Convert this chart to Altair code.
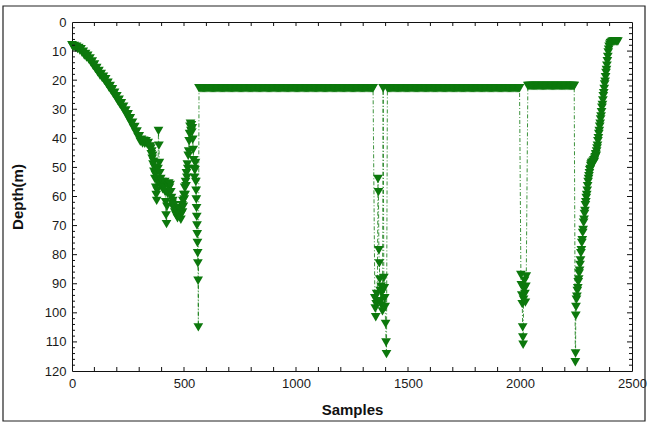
import altair as alt
import pandas as pd

# ---- depth record (sample index -> depth in metres) ----
GREEN = "#0c780c"

# initial descent, read every 5 samples from sample 0
DESCENT_START = 0
DESCENT_STEP = 5
DESCENT_DEPTH = [8.0, 8.6, 8.2, 8.9, 8.5, 9.3, 8.9, 9.8, 9.4, 10.6,
                 10.2, 11.5, 11.0, 12.2, 11.6, 12.9, 12.5, 13.9, 13.6, 15.1,
                 14.6, 16.2, 15.8, 17.3, 16.8, 18.4, 17.9, 19.3, 18.8, 20.2,
                 19.7, 21.3, 20.9, 22.5, 22.0, 23.6, 23.1, 24.8, 24.3, 25.9,
                 25.5, 27.2, 26.7, 28.4, 27.9, 29.6, 29.1, 30.8, 30.4, 32.2,
                 31.7, 33.6, 33.1, 35.0, 34.6, 36.5, 36.1, 38.0, 37.6, 39.5,
                 39.3, 41.2, 40.5, 41.8, 40.8, 41.9, 41.0, 42.0, 41.6, 43.0,
                 42.8]

# irregular V-shaped stretch before the first long plateau
V_SAMPLES = [352, 354, 356, 358, 360, 362, 364, 366, 368, 370, 372, 374, 376, 378,
             380, 382, 384, 386, 388, 390, 392, 394, 396, 399, 402, 405, 408, 411,
             414, 416, 418, 420, 422, 424, 426, 429, 432, 435, 438, 441, 444, 447,
             450, 453, 456, 459, 462, 465, 468, 471, 474, 477, 480, 483, 486, 489,
             491, 493, 495, 497, 499, 501, 503, 505, 507, 509, 511, 513, 515, 517,
             519, 521, 523, 525, 527, 529, 531, 533, 535, 537, 539, 541, 543, 545,
             547, 549, 551]
V_DEPTH = [43.5, 45.5, 44.5, 47.0, 46.0, 49.0, 48.0, 51.5, 50.0, 54.0, 52.5, 57.0, 59.5, 61.5,
           58.0, 55.0, 50.5, 37.5, 42.5, 48.5, 52.0, 55.5, 54.0, 56.5, 55.0, 57.5, 55.5, 57.0,
           55.0, 58.5, 62.0, 66.5, 69.5, 63.5, 59.0, 56.5, 55.5, 57.0, 56.0, 58.5, 60.5, 62.5,
           61.5, 64.0, 63.0, 65.5, 64.0, 66.5, 65.0, 67.5, 66.0, 64.0, 66.5, 65.0, 68.0, 66.0,
           63.0, 65.5, 61.5, 63.5, 59.5, 61.0, 57.0, 59.5, 55.0, 56.5, 52.0, 53.5, 49.0, 50.5,
           46.0, 44.5, 41.0, 38.5, 36.0, 35.0, 37.5, 35.5, 38.0, 36.5, 40.5, 44.0, 47.5, 50.5,
           53.5, 51.0, 48.5]

# short excursions between plateaus
SPIKE_A_SAMPLES = [553, 554, 555, 556, 557, 558, 559, 560, 561, 562, 563, 564]
SPIKE_A_DEPTH = [55.0, 58.0, 61.0, 64.0, 67.0, 70.0, 73.0, 76.0, 79.5, 83.0, 89.0, 105.0]

SPIKE_B_SAMPLES = [1352, 1354, 1356, 1358, 1360, 1363, 1366, 1368, 1370, 1372, 1374, 1376,
                   1378, 1380, 1382, 1384, 1386, 1389, 1392, 1394, 1396, 1398, 1400, 1402, 1404]
SPIKE_B_DEPTH = [95.0, 98.5, 101.5, 97.0, 93.5, 96.0, 54.0, 58.5, 78.5, 83.0, 88.5, 92.5,
                 96.0, 91.0, 97.5, 93.0, 99.5, 22.8, 88.0, 91.5, 95.0, 98.0, 103.8, 110.2, 114.2]

SPIKE_C_SAMPLES = [2004, 2006, 2008, 2010, 2012, 2013, 2014, 2016, 2018, 2020, 2022, 2024,
                   2026, 2028]
SPIKE_C_DEPTH = [87.0, 90.5, 94.0, 97.0, 105.0, 108.5, 111.0, 95.5, 92.0, 89.0, 93.5, 96.5,
                 91.0, 87.5]

SPIKE_D_SAMPLES = [2247, 2248, 2249, 2250]
SPIKE_D_DEPTH = [117.0, 114.0, 101.0, 98.0]

# final ascent to the surface
CLIMB_SAMPLES = [2252, 2254, 2256, 2258, 2260, 2262, 2264, 2266, 2268, 2270, 2272, 2274,
                 2276, 2278, 2280, 2282, 2284, 2286, 2288, 2290, 2292, 2294, 2296, 2298,
                 2300, 2302, 2304, 2306, 2308, 2310, 2312, 2314, 2316, 2318, 2320, 2322,
                 2324, 2326, 2328, 2330, 2332, 2334, 2336, 2338, 2340, 2342, 2344, 2346,
                 2348, 2350, 2352, 2354, 2356, 2358, 2360, 2362, 2364, 2366, 2368, 2370,
                 2372, 2374, 2376, 2378, 2380, 2382, 2384, 2386, 2388, 2390, 2392, 2394,
                 2396, 2398, 2401, 2404, 2408, 2412, 2416, 2420, 2424, 2428, 2432, 2437]
CLIMB_DEPTH = [95.5, 94.5, 92.5, 91.5, 89.5, 88.5, 86.5, 85.5, 83.5, 82.0, 79.5, 78.5,
               76.0, 75.0, 72.5, 71.5, 69.0, 68.0, 66.0, 65.0, 63.0, 62.0, 60.5, 59.5,
               58.0, 56.5, 55.0, 54.0, 53.0, 52.0, 51.0, 50.5, 49.5, 49.0, 48.5, 49.0,
               48.5, 48.0, 48.5, 47.5, 48.0, 47.0, 46.5, 45.5, 46.0, 44.5, 43.5, 42.5,
               41.0, 40.0, 38.5, 37.5, 36.0, 35.0, 33.5, 32.5, 31.0, 29.5, 28.5, 27.0,
               25.5, 24.5, 23.0, 21.5, 20.5, 19.0, 17.5, 16.5, 15.0, 13.5, 12.0, 10.5,
               9.5, 8.5, 7.8, 7.3, 7.0, 6.8, 6.7, 6.7, 6.6, 6.6, 6.7, 6.7]

# constant-depth plateaus: (first sample, last sample, depth), recorded every 5 samples
PLATEAUS = [(567, 1344, 22.8), (1408, 1998, 22.8), (2035, 2242, 22.0)]
PLATEAU_STEP = 5

X_LABELS = [0, 500, 1000, 1500, 2000, 2500]
Y_LABELS = [0, 10, 20, 30, 40, 50, 60, 70, 80, 90, 100, 110, 120]


def plateau(run):
    start, end, depth = run
    samples = list(range(start, end, PLATEAU_STEP)) + [end]
    return samples, [depth] * len(samples)


descent_samples = [DESCENT_START + i * DESCENT_STEP for i in range(len(DESCENT_DEPTH))]
p1, p2, p3 = (plateau(r) for r in PLATEAUS)

pieces = [
    (descent_samples, DESCENT_DEPTH),
    (V_SAMPLES, V_DEPTH),
    (SPIKE_A_SAMPLES, SPIKE_A_DEPTH),
    p1,
    (SPIKE_B_SAMPLES, SPIKE_B_DEPTH),
    p2,
    (SPIKE_C_SAMPLES, SPIKE_C_DEPTH),
    p3,
    (SPIKE_D_SAMPLES, SPIKE_D_DEPTH),
    (CLIMB_SAMPLES, CLIMB_DEPTH),
]
rows = []
for s_list, d_list in pieces:
    for s, d in zip(s_list, d_list):
        rows.append({"sample": s, "depth": d})
df = pd.DataFrame(rows)
df["seq"] = range(len(df))

W, H = 560, 349
FONT = "Liberation Sans"

x_scale = alt.Scale(domain=[0, 2500], nice=False, zero=False)
y_scale = alt.Scale(domain=[0, 120], reverse=True, nice=False, zero=False)

x_axis = alt.Axis(
    values=X_LABELS, format="d", title="Samples", ticks=False, tickSize=0, domain=False,
    grid=False, labelFont=FONT, labelFontSize=13, labelColor="#1a1a1a", labelPadding=6,
    labelFlush=False, labelOverlap=False,
    titleFont=FONT, titleFontSize=15, titleFontWeight="bold", titleColor="#111111",
    titleX=W / 2, titleY=38, titleBaseline="middle", titleAlign="center",
)
y_axis = alt.Axis(
    values=Y_LABELS, format="d", title="Depth(m)", ticks=False, tickSize=0, domain=False,
    grid=False, labelFont=FONT, labelFontSize=13, labelColor="#1a1a1a", labelPadding=6,
    labelOverlap=False,
    titleFont=FONT, titleFontSize=15, titleFontWeight="bold", titleColor="#111111",
    titleAngle=270, titleX=-55, titleY=H / 2, titleBaseline="middle", titleAlign="center",
)

base = alt.Chart(df)
trace = base.mark_line(color=GREEN, strokeWidth=1, strokeDash=[4, 2, 1, 2], opacity=0.8).encode(
    x=alt.X("sample:Q", scale=x_scale, axis=x_axis),
    y=alt.Y("depth:Q", scale=y_scale, axis=y_axis),
    order="seq:Q",
)
points = base.mark_point(shape="triangle-down", filled=True, size=95, color=GREEN,
                         opacity=1, strokeWidth=0).encode(
    x=alt.X("sample:Q", scale=x_scale, axis=x_axis),
    y=alt.Y("depth:Q", scale=y_scale, axis=y_axis),
)


# inward tick marks on all four sides of the frame
def tick_layer(values, side, length):
    data = pd.DataFrame({"v": values})
    if side in ("left", "right"):
        enc = {"y": alt.Y("v:Q", scale=y_scale, axis=y_axis)}
        if side == "left":
            enc.update(x=alt.value(0), x2=alt.value(length))
        else:
            enc.update(x=alt.value(W - length), x2=alt.value(W))
    else:
        enc = {"x": alt.X("v:Q", scale=x_scale, axis=x_axis)}
        if side == "bottom":
            enc.update(y=alt.value(H - length), y2=alt.value(H))
        else:
            enc.update(y=alt.value(0), y2=alt.value(length))
    return alt.Chart(data).mark_rule(color="#111111", strokeWidth=1).encode(**enc)


y_major = [v for v in range(10, 120, 10)]
y_minor = [v for v in range(2, 120, 2) if v % 10]
x_ticks = [v for v in range(100, 2500, 100)]

ticks = [
    tick_layer(y_major, "left", 5), tick_layer(y_minor, "left", 3),
    tick_layer(y_major, "right", 5), tick_layer(y_minor, "right", 3),
    tick_layer(x_ticks, "bottom", 4), tick_layer(x_ticks, "top", 4),
]

# outer figure border
border = alt.Chart(pd.DataFrame({"k": [0]})).mark_rect(
    fillOpacity=0, stroke="#222222", strokeWidth=1.2
).encode(x=alt.value(-69), x2=alt.value(573), y=alt.value(-16), y2=alt.value(399))

chart = alt.layer(trace, points, *ticks, border).properties(
    width=W, height=H,
    autosize=alt.AutoSizeParams(type="none"),
    padding={"left": 72, "top": 22, "right": 17, "bottom": 53},
    background="white",
).configure_view(stroke="#111111", strokeWidth=1)

chart.save("out.html", embed_options={"renderer": "svg", "actions": False})
